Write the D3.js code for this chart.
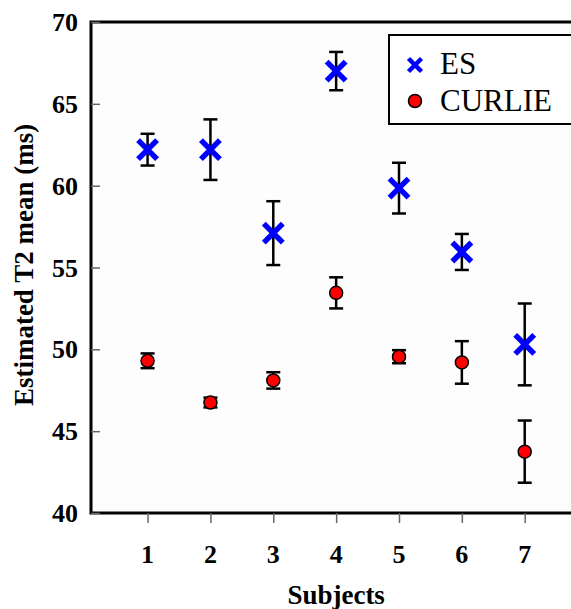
<!DOCTYPE html>
<html>
<head>
<meta charset="utf-8">
<script src="https://cdn.jsdelivr.net/npm/d3@7"></script>
<style>
  body { margin: 0; background: #fff; }
  svg text { font-family: "Times New Roman", "Liberation Serif", "DejaVu Serif", serif; }
</style>
</head>
<body>
<svg id="canvas"></svg>
<script>
let subjects = [1, 2, 3, 4, 5, 6, 7]
let esMean = [62.2, 62.2, 57.1, 67.0, 59.85, 55.95, 50.3]
let esErr = [0.97, 1.85, 1.95, 1.17, 1.55, 1.1, 2.5]
let curlieMean = [49.3, 46.75, 48.1, 53.45, 49.55, 49.2, 43.75]
let curlieErr = [0.45, 0.3, 0.5, 0.95, 0.4, 1.3, 1.9]
let yTicks = [40, 45, 50, 55, 60, 65, 70]
let seriesNames = ['ES', 'CURLIE']

let width = 571
let height = 609
let plotLeft = 91, plotTop = 22, plotRight = 575, plotBottom = 513
let serif = '"Times New Roman", "Liberation Serif", "DejaVu Serif", serif'

let canvas = d3.select('#canvas')
canvas.attr('width', width).attr('height', height)

let xScale = d3.scaleLinear().domain([0.1, 7.8]).range([plotLeft, plotRight])
let yScale = d3.scaleLinear().domain([40, 70]).range([plotBottom, plotTop])

let es = subjects.map((s, i) => ({ s: s, m: esMean[i], e: esErr[i] }))
let curlie = subjects.map((s, i) => ({ s: s, m: curlieMean[i], e: curlieErr[i] }))

// frame
canvas.append('rect')
      .attr('x', plotLeft).attr('y', plotTop)
      .attr('width', plotRight - plotLeft).attr('height', plotBottom - plotTop)
      .attr('fill', '#fdfdfd')
      .attr('stroke', '#000').attr('stroke-width', 3)

// y axis: ticks inside
let yAxis = d3.axisRight(yScale).tickValues(yTicks).tickSize(9).tickFormat('')
let gy = canvas.append('g').attr('transform', 'translate(' + plotLeft + ',0)').call(yAxis)
gy.select('.domain').remove()
gy.selectAll('line').attr('stroke', '#666').attr('stroke-width', 1.5)

canvas.selectAll('.ylab')
      .data(yTicks)
      .enter()
      .append('text')
      .attr('class', 'ylab')
      .attr('x', 78)
      .attr('y', (d) => yScale(d) + 9)
      .attr('text-anchor', 'end')
      .attr('font-family', serif)
      .attr('font-size', 26)
      .attr('font-weight', 'bold')
      .text((d) => d)

// x axis: ticks outside
let xAxis = d3.axisBottom(xScale).tickValues(subjects).tickSize(10).tickFormat('')
let gx = canvas.append('g').attr('transform', 'translate(0,' + plotBottom + ')').call(xAxis)
gx.select('.domain').remove()
gx.selectAll('line').attr('stroke', '#666').attr('stroke-width', 1.5)

canvas.selectAll('.xlab')
      .data(subjects)
      .enter()
      .append('text')
      .attr('class', 'xlab')
      .attr('x', (d) => xScale(d))
      .attr('y', 563)
      .attr('text-anchor', 'middle')
      .attr('font-family', serif)
      .attr('font-size', 26)
      .attr('font-weight', 'bold')
      .text((d) => d)

canvas.append('text')
      .attr('x', xScale(4)).attr('y', 604)
      .attr('text-anchor', 'middle')
      .attr('font-family', serif)
      .attr('font-size', 27).attr('font-weight', 'bold')
      .text('Subjects')

canvas.append('text')
      .attr('transform', 'translate(33,' + 265 + ') rotate(-90)')
      .attr('text-anchor', 'middle')
      .attr('font-family', serif)
      .attr('font-size', 27).attr('font-weight', 'bold')
      .text('Estimated T2 mean (ms)')

// error bars
let drawErr = (data, cls) => {
    let g = canvas.append('g').attr('class', cls)
    let cap = 7
    data.forEach((d) => {
        let x = xScale(d.s)
        let y1 = yScale(d.m + d.e), y2 = yScale(d.m - d.e)
        g.append('line').attr('x1', x).attr('x2', x).attr('y1', y1).attr('y2', y2)
        g.append('line').attr('x1', x - cap).attr('x2', x + cap).attr('y1', y1).attr('y2', y1)
        g.append('line').attr('x1', x - cap).attr('x2', x + cap).attr('y1', y2).attr('y2', y2)
    })
    g.selectAll('line').attr('stroke', '#000').attr('stroke-width', 2.5)
}
drawErr(es, 'es-err')
drawErr(curlie, 'curlie-err')

let crossPath = (r) => 'M' + (-r) + ',' + (-r) + 'L' + r + ',' + r + 'M' + (-r) + ',' + r + 'L' + r + ',' + (-r)

canvas.selectAll('.es')
      .data(es)
      .enter()
      .append('path')
      .attr('class', 'es')
      .attr('transform', (d) => 'translate(' + xScale(d.s) + ',' + yScale(d.m) + ')')
      .attr('d', crossPath(9.5))
      .attr('stroke', '#0000ff')
      .attr('stroke-width', 5.5)
      .attr('fill', 'none')

canvas.selectAll('.curlie')
      .data(curlie)
      .enter()
      .append('circle')
      .attr('class', 'curlie')
      .attr('cx', (d) => xScale(d.s))
      .attr('cy', (d) => yScale(d.m))
      .attr('r', 6.5)
      .attr('fill', '#ff0000')
      .attr('stroke', '#000')
      .attr('stroke-width', 1.5)

// legend
let legend = canvas.append('g')
legend.append('rect')
      .attr('x', 389).attr('y', 35)
      .attr('width', 200).attr('height', 89)
      .attr('fill', '#fff')
      .attr('stroke', '#000').attr('stroke-width', 2)
legend.append('path')
      .attr('transform', 'translate(415,65)')
      .attr('d', crossPath(6.5))
      .attr('stroke', '#0000ff').attr('stroke-width', 4.5).attr('fill', 'none')
legend.append('circle')
      .attr('cx', 415).attr('cy', 101).attr('r', 6.5)
      .attr('fill', '#ff0000').attr('stroke', '#000').attr('stroke-width', 1.5)
legend.selectAll('.legtext')
      .data(seriesNames)
      .enter()
      .append('text')
      .attr('class', 'legtext')
      .attr('x', 440)
      .attr('y', (d, i) => 74 + i * 37)
      .attr('font-family', serif)
      .attr('font-weight', 'normal')
      .attr('font-size', 31)
      .text((d) => d)
</script>
</body>
</html>
